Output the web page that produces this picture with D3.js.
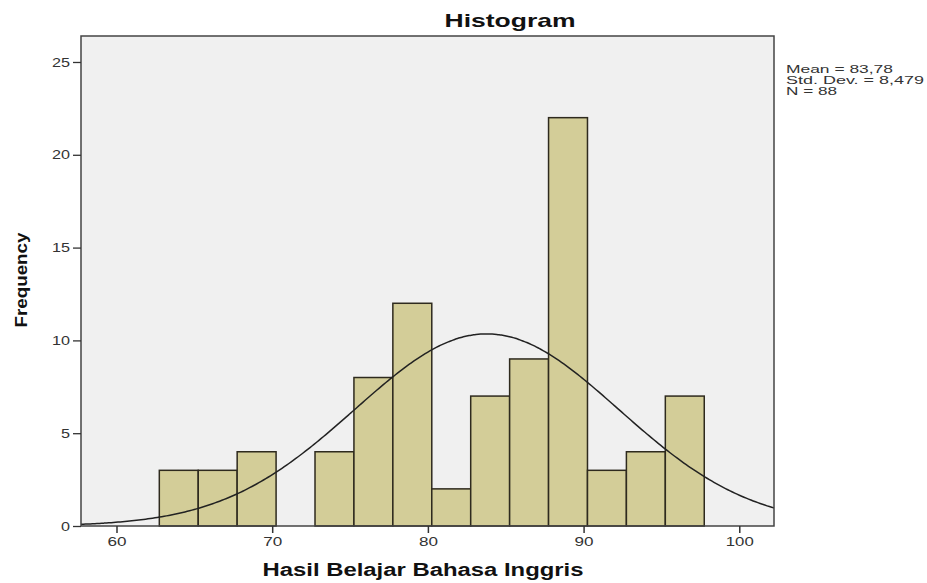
<!DOCTYPE html>
<html><head><meta charset="utf-8">
<script src="https://cdn.jsdelivr.net/npm/d3@7"></script>
<style>body{margin:0;background:#fff}svg{display:block}</style>
</head><body>
<script>
const binStarts = [62.75,65.25,67.75,70.25,72.75,75.25,77.75,80.25,82.75,85.25,87.75,90.25,92.75,95.25];
const binWidth = 2.5;
const frequencies = [3,3,4,0,4,8,12,2,7,9,22,3,4,7];
const xTicks = [60,70,80,90,100];
const yTicks = [0,5,10,15,20,25];
const stats = {mean:83.78, sd:8.479, n:88};
const statLines = ["Mean = 83,78","Std. Dev. = 8,479","N = 88"];

const W=927,H=583;
const svg=d3.select("body").append("svg").attr("width",W).attr("height",H);
const L=81,R=774,T=36,B=526;
const x=d3.scaleLinear().domain([57.72,102.23]).range([L,R]);
const y=d3.scaleLinear().domain([0,26.4]).range([B,T]);

svg.append("rect").attr("x",L).attr("y",T).attr("width",R-L).attr("height",B-T).attr("fill","#f0f0f0");

svg.append("g").selectAll("rect").data(binStarts.map((s,i)=>({s,f:frequencies[i]})).filter(d=>d.f>0))
 .join("rect")
 .attr("x",d=>x(d.s)).attr("width",d=>x(d.s+binWidth)-x(d.s))
 .attr("y",d=>y(d.f)).attr("height",d=>y(0)-y(d.f))
 .attr("fill","#d3cd98").attr("stroke","#2e2a1e").attr("stroke-width",1.5);

const peak=stats.n*binWidth/(stats.sd*Math.sqrt(2*Math.PI));
const xs=d3.range(0,301).map(i=>57.72+(102.23-57.72)*i/300);
const line=d3.line().x(v=>x(v)).y(v=>y(peak*Math.exp(-0.5*((v-stats.mean)/stats.sd)**2))).curve(d3.curveBasis);
svg.append("path").datum(xs).attr("d",line).attr("fill","none").attr("stroke","#222").attr("stroke-width",1.5);

// frame
svg.append("rect").attr("x",L).attr("y",T).attr("width",R-L).attr("height",B-T).attr("fill","none").attr("stroke","#444").attr("stroke-width",1.5);

const font="'Liberation Sans', Arial, sans-serif";
// x axis
const xa=svg.append("g").attr("transform",`translate(0,${B})`).call(d3.axisBottom(x).tickValues(xTicks).tickSize(7).tickSizeOuter(0).tickPadding(4));
xa.select(".domain").remove();
xa.selectAll("line").attr("stroke","#333").attr("stroke-width",1.5);
xa.selectAll("text").attr("font-family",font).attr("font-size",13).attr("fill","#333")
 .attr("textLength",d=>d>=100?28:19).attr("lengthAdjust","spacingAndGlyphs");

const ya=svg.append("g").attr("transform",`translate(${L},0)`).call(d3.axisLeft(y).tickValues(yTicks).tickSize(8).tickSizeOuter(0).tickPadding(3));
ya.select(".domain").remove();
ya.selectAll("line").attr("stroke","#333").attr("stroke-width",1.3);
ya.selectAll("text").attr("font-family",font).attr("font-size",13).attr("fill","#333")
 .attr("textLength",d=>d>=10?18:9).attr("lengthAdjust","spacingAndGlyphs");

svg.append("text").attr("x",510).attr("y",27).attr("text-anchor","middle").attr("font-family",font)
 .attr("font-weight","bold").attr("font-size",19).attr("fill","#111").attr("textLength",131).attr("lengthAdjust","spacingAndGlyphs").text("Histogram");

svg.append("text").attr("x",423).attr("y",576).attr("text-anchor","middle").attr("font-family",font)
 .attr("font-weight","bold").attr("font-size",18).attr("fill","#111").attr("textLength",321).attr("lengthAdjust","spacingAndGlyphs").text("Hasil Belajar Bahasa Inggris");

svg.append("text").attr("transform","translate(27,280) rotate(-90)").attr("text-anchor","middle").attr("font-family",font)
 .attr("font-weight","bold").attr("font-size",16).attr("fill","#111").attr("textLength",95).attr("lengthAdjust","spacingAndGlyphs").text("Frequency");

const st=svg.append("text").attr("font-family",font).attr("font-size",11).attr("fill","#333");
statLines.forEach((s,i)=>st.append("tspan").attr("x",786).attr("y",73+i*11).attr("textLength",[107,138,51][i]).attr("lengthAdjust","spacingAndGlyphs").text(s));
</script>
</body></html>
